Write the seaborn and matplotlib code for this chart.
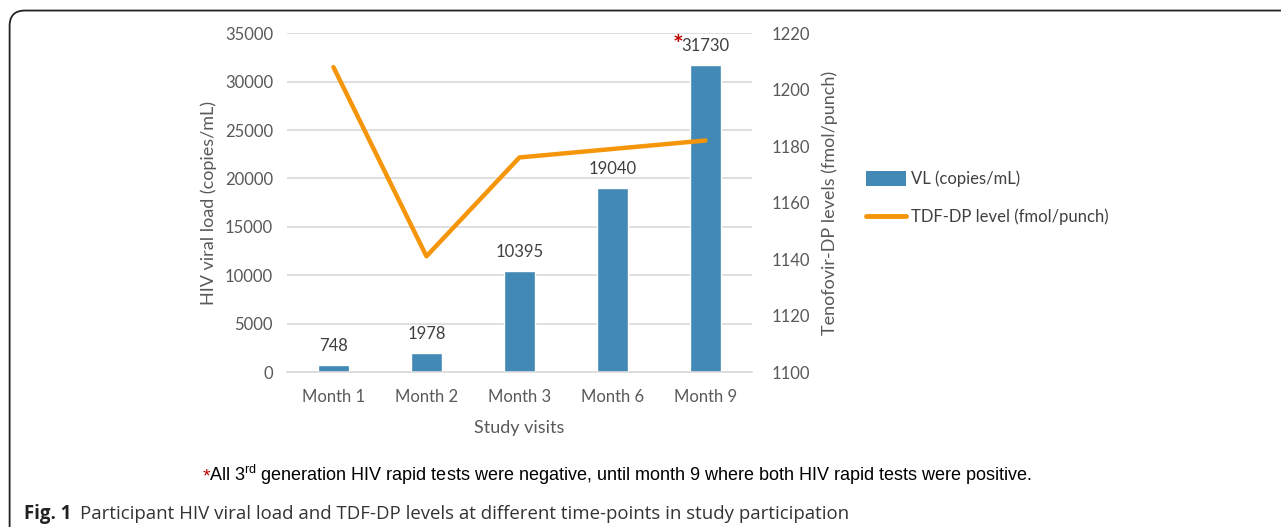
import matplotlib
matplotlib.use('Agg')
import matplotlib.pyplot as plt
import seaborn as sns
import pandas as pd
from matplotlib.patches import Patch, FancyBboxPatch
from matplotlib.lines import Line2D

# --- data ---
months = ['Month 1', 'Month 2', 'Month 3', 'Month 6', 'Month 9']
viral_load = [748, 1978, 10395, 19040, 31730]
tdf_dp = [1208, 1141, 1176, 1179, 1182]

bar_color = '#4389B5'
line_color = '#F5960A'
text_color = '#595959'

sns.set_style('white')
plt.rcParams['font.family'] = ['Lato', 'DejaVu Sans']
plt.rcParams['mathtext.fontset'] = 'custom'
plt.rcParams['mathtext.rm'] = 'Liberation Sans'

df = pd.DataFrame({'visit': months, 'vl': viral_load, 'tdf': tdf_dp})

fig = plt.figure(figsize=(12.81, 5.27), dpi=100)
ax = fig.add_axes([0.224, 0.294, 0.363, 0.643])

sns.barplot(data=df, x='visit', y='vl', color=bar_color, width=0.33,
            saturation=1, ax=ax, zorder=2)
ax.set_ylim(0, 35000)
ax.set_yticks(range(0, 35001, 5000))
ax.yaxis.grid(True, color='#D9D9D9', linewidth=1.2, zorder=0)
ax.set_axisbelow(True)
for s in ['top', 'right', 'left']:
    ax.spines[s].set_visible(False)
ax.spines['bottom'].set_color('#D9D9D9')
ax.spines['bottom'].set_linewidth(1.2)
ax.tick_params(axis='y', length=0, labelsize=12, labelcolor=text_color, pad=10)
ax.tick_params(axis='x', length=0, labelsize=12, labelcolor=text_color, pad=12)
ax.set_xlabel('Study visits', fontsize=13, color=text_color, labelpad=11)
ax.set_ylabel('HIV viral load (copies/mL)', fontsize=13, color=text_color, labelpad=6)

# value labels on bars
for i, v in enumerate(viral_load):
    ax.annotate(f'{v}', (i, v), xytext=(0, 8), textcoords='offset points',
                ha='center', va='bottom', fontsize=12, color='#404040')
    if i == len(viral_load) - 1:
        # red asterisk marking the positive rapid test
        ax.annotate('*', (i, v), xytext=(-16, 6), textcoords='offset points',
                    ha='right', va='bottom', fontsize=18, color='#C00000',
                    fontweight='bold')

ax2 = ax.twinx()
sns.lineplot(data=df, x='visit', y='tdf', color=line_color, linewidth=3.2,
             sort=False, ax=ax2, zorder=3)
ax2.set_ylim(1100, 1220)
ax2.set_yticks(range(1100, 1221, 20))
for s in ['top', 'right', 'left', 'bottom']:
    ax2.spines[s].set_visible(False)
ax2.tick_params(axis='y', length=0, labelsize=12, labelcolor=text_color, pad=14)
ax2.set_ylabel('Tenofovir-DP levels (fmol/punch)', fontsize=13, color=text_color,
               labelpad=8)
ax.set_xlim(-0.5, 4.5)

handles = [Patch(facecolor=bar_color, edgecolor='none'),
           Line2D([0], [0], color=line_color, linewidth=3.5)]
fig.legend(handles, ['VL (copies/mL)', 'TDF-DP level (fmol/punch)'],
           loc='upper left', bbox_to_anchor=(0.664, 0.705), frameon=False,
           fontsize=12, labelcolor='#404040', handlelength=2.4,
           handleheight=1.0, labelspacing=1.3, handletextpad=0.3)

# panel frame
frame = FancyBboxPatch((0.0075, -0.05), 1.1, 1.03, transform=fig.transFigure,
                       boxstyle='round,pad=0,rounding_size=0.012',
                       facecolor='none', edgecolor='#222222', linewidth=1.3,
                       mutation_aspect=1281 / 527)
fig.patches.append(frame)

fig.text(0.158, 0.087, '*', color='#C00000', fontsize=14,
         family='Liberation Sans', ha='left', va='baseline')
fig.text(0.1635, 0.087,
         'All 3$^{\\rm rd}$ generation HIV rapid tests were negative, until month 9 where both HIV rapid tests were positive.',
         color='#000000', fontsize=13, family='Liberation Sans', ha='left',
         va='baseline')
fig.text(0.019, 0.016, 'Fig. 1', fontsize=13.4, fontweight='bold', color='#222222',
         family=['Open Sans', 'DejaVu Sans'], ha='left', va='baseline')
fig.text(0.0625, 0.016,
         'Participant HIV viral load and TDF-DP levels at different time-points in study participation',
         fontsize=13.4, color='#333333', family=['Open Sans', 'DejaVu Sans'],
         ha='left', va='baseline')

fig.savefig('out.png', dpi=100)
